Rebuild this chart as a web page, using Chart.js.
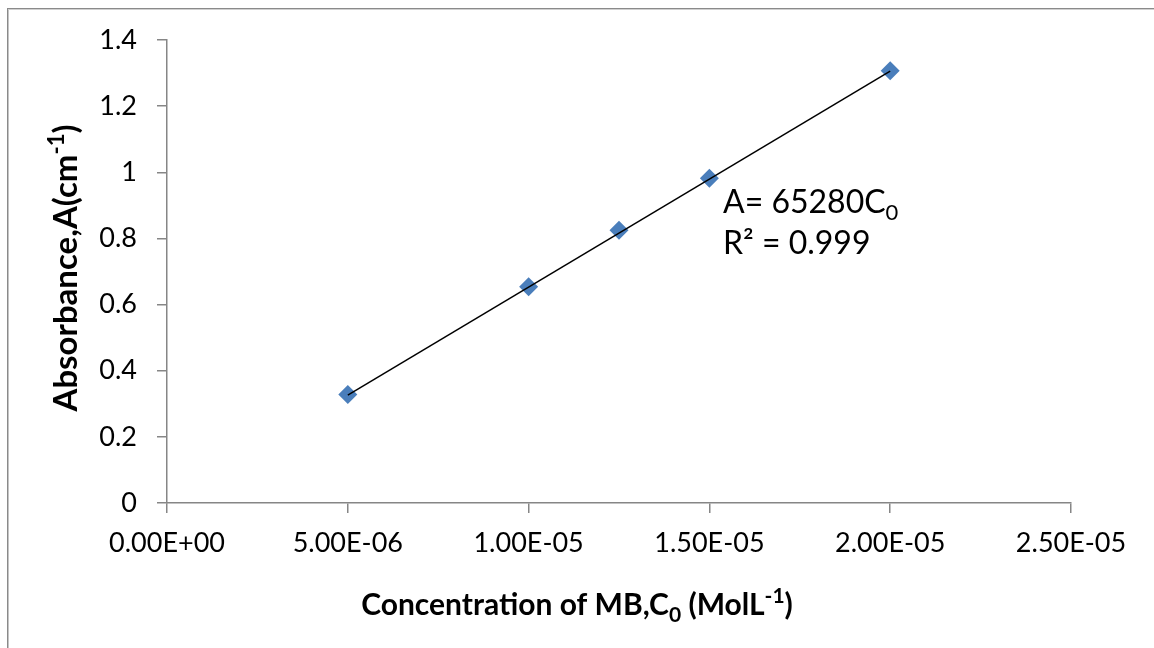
<!DOCTYPE html>
<html>
<head>
<meta charset="utf-8">
<script src="https://cdn.jsdelivr.net/npm/chart.js@4.4.1/dist/chart.umd.min.js"></script>
<style>
  html, body { margin: 0; padding: 0; background: #ffffff; }
  #wrap { width: 1154px; height: 648px; position: relative; }
</style>
</head>
<body>
<div id="wrap"><canvas id="c" width="1154" height="648"></canvas></div>
<script>
// ---- data ----
const concentrations = [5e-6, 1e-5, 1.25e-5, 1.5e-5, 2e-5];
const absorbances = [0.328, 0.654, 0.825, 0.982, 1.307];
const trendX = [5e-6, 2e-5];
const trendY = [0.3264, 1.3056];
const xTicks = [0, 5e-6, 1e-5, 1.5e-5, 2e-5, 2.5e-5];
const yTicks = [0, 0.2, 0.4, 0.6, 0.8, 1, 1.2, 1.4];
const equationText = "A= 65280C";
const equationSub = "0";
const r2Text = "R\u00B2 = 0.999";

function fmtExp(v) {
  const s = v.toExponential(2);
  const [m, e] = s.split('e');
  const sign = e[0] === '-' ? '-' : '+';
  const digits = e.replace(/[+-]/, '').padStart(2, '0');
  return m + 'E' + sign + digits;
}

const FONT = "Lato, 'Open Sans', sans-serif";

const decorations = {
  id: 'decorations',
  beforeDraw(chart) {
    const ctx = chart.ctx;
    ctx.save();
    ctx.fillStyle = '#ffffff';
    ctx.fillRect(0, 0, chart.width, chart.height);
    ctx.fillStyle = '#8a8a8a';
    ctx.fillRect(7, 8, chart.width - 7, 1);
    ctx.fillRect(7, 8, 1.5, chart.height - 8);
    ctx.fillStyle = '#d0d0d0';
    ctx.fillRect(8, 9, chart.width - 8, 1);
    ctx.restore();
  },
  afterDraw(chart) {
    const ctx = chart.ctx;
    ctx.save();
    ctx.fillStyle = '#000000';
    ctx.textBaseline = 'alphabetic';
    ctx.textAlign = 'left';

    // x-axis title with subscript / superscript
    const xs = 30, xsSmall = 21;
    const parts = [
      { t: 'Concentration of MB,C', f: 'bold ' + xs + 'px ' + FONT, dy: 0 },
      { t: '0', f: 'bold ' + xsSmall + 'px ' + FONT, dy: 7 },
      { t: ' (MolL', f: 'bold ' + xs + 'px ' + FONT, dy: 0 },
      { t: '-1', f: 'bold ' + xsSmall + 'px ' + FONT, dy: -12 },
      { t: ')', f: 'bold ' + xs + 'px ' + FONT, dy: 0 }
    ];
    let total = 0;
    parts.forEach(p => { ctx.font = p.f; p.w = ctx.measureText(p.t).width; total += p.w; });
    let x = 577 - total / 2;
    const by = 615;
    parts.forEach(p => { ctx.font = p.f; ctx.fillText(p.t, x, by + p.dy); x += p.w; });

    // y-axis title (rotated)
    const ys = 33, ysSmall = 22;
    const yparts = [
      { t: 'Absorbance,A(cm', f: 'bold ' + ys + 'px ' + FONT, dy: 0 },
      { t: '-1', f: 'bold ' + ysSmall + 'px ' + FONT, dy: -13 },
      { t: ')', f: 'bold ' + ys + 'px ' + FONT, dy: 0 }
    ];
    let ytotal = 0;
    yparts.forEach(p => { ctx.font = p.f; p.w = ctx.measureText(p.t).width; ytotal += p.w; });
    ctx.save();
    ctx.translate(77, 268);
    ctx.rotate(-Math.PI / 2);
    let yx = -ytotal / 2;
    yparts.forEach(p => { ctx.font = p.f; ctx.fillText(p.t, yx, p.dy); yx += p.w; });
    ctx.restore();

    // trendline equation
    const es = 32, esSmall = 22;
    ctx.font = es + 'px ' + FONT;
    const ex = 723;
    ctx.fillText(equationText, ex, 213);
    const ew = ctx.measureText(equationText).width;
    ctx.font = esSmall + 'px ' + FONT;
    ctx.fillText(equationSub, ex + ew, 220);
    ctx.font = es + 'px ' + FONT;
    ctx.fillText(r2Text, ex, 254);
    ctx.restore();
  }
};

const scatterData = concentrations.map((c, i) => ({ x: c, y: absorbances[i] }));
const trendData = trendX.map((c, i) => ({ x: c, y: trendY[i] }));

new Chart(document.getElementById('c'), {
  type: 'scatter',
  data: {
    datasets: [
      {
        type: 'line',
        label: 'Trendline',
        data: trendData,
        borderColor: '#000000',
        borderWidth: 1.5,
        pointRadius: 0,
        fill: false,
        order: 0
      },
      {
        label: 'Absorbance',
        data: scatterData,
        pointStyle: 'rectRot',
        pointRadius: 9.5,
        backgroundColor: '#4a7ebb',
        borderColor: '#4a7ebb',
        borderWidth: 0,
        order: 1
      }
    ]
  },
  options: {
    responsive: false,
    animation: false,
    devicePixelRatio: 1,
    layout: { padding: { left: 0, top: 40, right: 83, bottom: 0 } },
    plugins: { legend: { display: false }, tooltip: { enabled: false } },
    scales: {
      x: {
        type: 'linear',
        min: 0,
        max: 2.5e-5,
        afterBuildTicks(scale) { scale.ticks = xTicks.map(v => ({ value: v })); },
        afterFit(scale) { scale.height = 145; },
        grid: { drawOnChartArea: false, tickLength: 10, color: '#868686', lineWidth: 1.5 },
        border: { color: '#868686', width: 1.5 },
        ticks: {
          padding: 14,
          color: '#000000',
          font: { family: FONT, size: 27 },
          maxRotation: 0,
          autoSkip: false,
          callback: v => fmtExp(v)
        }
      },
      y: {
        type: 'linear',
        min: 0,
        max: 1.4,
        afterBuildTicks(scale) { scale.ticks = yTicks.map(v => ({ value: v })); },
        afterFit(scale) { scale.width = 167; },
        grid: { drawOnChartArea: false, tickLength: 10, color: '#868686', lineWidth: 1.5 },
        border: { color: '#868686', width: 1.5 },
        ticks: {
          padding: 20,
          color: '#000000',
          font: { family: FONT, size: 27 },
          autoSkip: false,
          callback: v => String(parseFloat(Number(v).toFixed(1)))
        }
      }
    }
  },
  plugins: [decorations]
});
</script>
</body>
</html>
